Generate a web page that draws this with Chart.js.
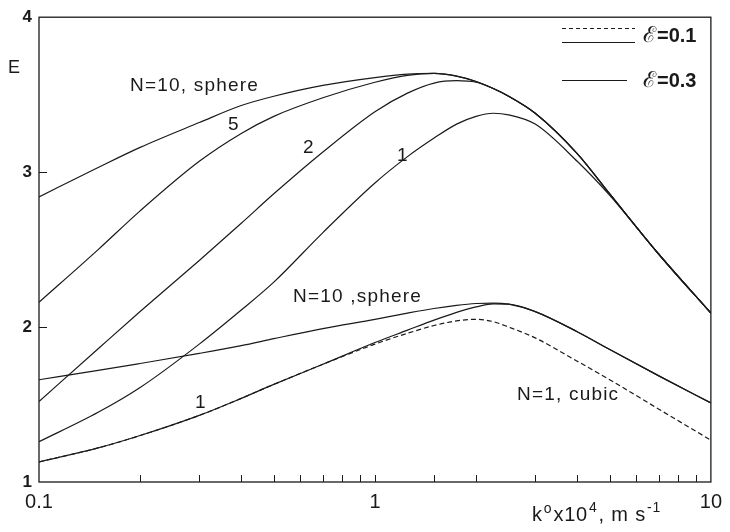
<!DOCTYPE html>
<html>
<head>
<meta charset="utf-8">
<script src="https://cdn.jsdelivr.net/npm/chart.js@4"></script>
<style>
  html, body { margin: 0; padding: 0; background: #fff; }
  #wrap { width: 730px; height: 532px; }
</style>
</head>
<body>
<div id="wrap"><canvas id="myChart"></canvas></div>
<script>
// k values (x 10^4, m/s) where the curves were read
const kValues = [0.1, 0.15, 0.2, 0.3, 0.4, 0.5, 0.7, 1, 1.25, 1.5, 1.75, 2, 2.25, 2.5, 3, 4, 5, 7, 10];

// upper family
const sphere10Upper = [2.84, 3.03, 3.16, 3.32, 3.43, 3.49, 3.56, 3.61, 3.632, 3.637, 3.62, 3.585, 3.54, 3.49, 3.38, 3.12, 2.86, 2.47, 2.09];
const n5Upper = [2.16, 2.50, 2.75, 3.07, 3.25, 3.36, 3.48, 3.58, 3.625, 3.637, 3.62, 3.585, 3.54, 3.49, 3.38, 3.12, 2.86, 2.47, 2.09];
const n2Upper = [1.52, 1.86, 2.10, 2.43, 2.67, 2.86, 3.13, 3.39, 3.51, 3.575, 3.59, 3.58, 3.54, 3.49, 3.38, 3.12, 2.86, 2.47, 2.09];
const n1Upper = [1.26, 1.45, 1.61, 1.89, 2.11, 2.29, 2.61, 2.93, 3.10, 3.22, 3.31, 3.36, 3.38, 3.37, 3.31, 3.07, 2.85, 2.47, 2.09];

// lower family
const sphere10Lower = [1.66, 1.72, 1.765, 1.83, 1.88, 1.925, 1.99, 2.05, 2.09, 2.12, 2.14, 2.152, 2.155, 2.148, 2.10, 1.97, 1.855, 1.685, 1.51];
const n1Lower = [1.13, 1.22, 1.30, 1.43, 1.54, 1.63, 1.76, 1.90, 1.98, 2.045, 2.095, 2.13, 2.15, 2.148, 2.10, 1.97, 1.855, 1.685, 1.51];
const cubic1Dashed = [1.13, 1.22, 1.30, 1.43, 1.54, 1.63, 1.76, 1.89, 1.96, 2.01, 2.04, 2.05, 2.035, 2.00, 1.93, 1.78, 1.66, 1.47, 1.27];

const xTickLabels = [0.1, 1, 10];
const yTickLabels = [1, 2, 3, 4];

const ink = '#1a1a1a';
const fontName = '"Liberation Sans", Arial, sans-serif';

function pts(arr) {
  return kValues.map((k, i) => ({ x: k, y: arr[i] }));
}

function line(label, arr, dashed) {
  return {
    label: label,
    data: pts(arr),
    borderColor: ink,
    borderWidth: 1.2,
    borderDash: dashed ? [5, 3] : [],
    pointRadius: 0,
    cubicInterpolationMode: 'monotone',
    fill: false
  };
}

// frame, inward ticks, labels and legend
const decor = {
  id: 'decor',
  afterDraw(chart) {
    const c = chart.ctx;
    const a = chart.chartArea;
    const xs = chart.scales.x;
    const ys = chart.scales.y;
    c.save();
    c.strokeStyle = ink;
    c.lineWidth = 1.3;
    c.strokeRect(a.left, a.top, a.right - a.left, a.bottom - a.top);

    c.lineWidth = 1;
    c.beginPath();
    xs.ticks.forEach(t => {
      if (t.value <= 0.1 || t.value >= 10) return;
      const px = Math.round(xs.getPixelForValue(t.value)) + 0.5;
      c.moveTo(px, a.bottom);
      c.lineTo(px, a.bottom - 7);
    });
    [2, 3].forEach(v => {
      const py = Math.round(ys.getPixelForValue(v)) + 0.5;
      c.moveTo(a.left, py);
      c.lineTo(a.left + 8, py);
    });
    c.stroke();

    c.fillStyle = ink;
    c.textBaseline = 'middle';
    c.textAlign = 'left';
    c.font = '18px ' + fontName;
    c.fillText('E', 8, 68);

    // curve labels
    c.font = '19px ' + fontName;
    c.letterSpacing = '1.2px';
    c.fillText('N=10, sphere', 130, 86);
    c.fillText('5', 228, 125);
    c.fillText('2', 303, 148);
    c.fillText('1', 397, 156);
    c.fillText('N=10 ,sphere', 293, 297);
    c.fillText('1', 195, 403);
    c.fillText('N=1, cubic', 517, 395);

    // legend
    c.letterSpacing = '0px';
    c.lineWidth = 1.1;
    c.setLineDash([4, 3]);
    c.beginPath();
    c.moveTo(562, 28.5); c.lineTo(635, 28.5);
    c.stroke();
    c.setLineDash([]);
    c.beginPath();
    c.moveTo(562, 42.5); c.lineTo(635, 42.5);
    c.moveTo(562, 80.5); c.lineTo(627, 80.5);
    c.stroke();
    [['=0.1', 36], ['=0.3', 81]].forEach(e => {
      c.font = '22px ' + fontName;
      c.fillText('\u2130', 643, e[1]);
      const w = c.measureText('\u2130').width;
      c.font = 'bold 20px ' + fontName;
      c.fillText(e[0], 643 + w + 1, e[1]);
    });

    // x title with superscripts
    const base = 521;
    let x = 532;
    const big = '20px ' + fontName;
    const small = '14px ' + fontName;
    c.textBaseline = 'alphabetic';
    c.letterSpacing = '0.8px';
    const parts = [['k', big, 0], ['o', small, -8], ['x10', big, 0], ['4', small, -9], [', m s', big, 0], ['-1', small, -9]];
    parts.forEach(p => {
      c.font = p[1];
      c.fillText(p[0], x, base + p[2]);
      x += c.measureText(p[0]).width + 1;
    });
    c.restore();
  }
};

const ctx = document.getElementById('myChart');

new Chart(ctx, {
  type: 'line',
  data: {
    datasets: [
      line('N=10, sphere', sphere10Upper),
      line('5', n5Upper),
      line('2', n2Upper),
      line('1', n1Upper),
      line('N=10, sphere (lower)', sphere10Lower),
      line('1 (lower)', n1Lower),
      line('N=1, cubic', cubic1Dashed, true)
    ]
  },
  options: {
    responsive: true,
    maintainAspectRatio: false,
    animation: false,
    layout: { padding: { left: 0, right: 12, top: 15, bottom: 0 } },
    plugins: { legend: { display: false }, tooltip: { enabled: false } },
    scales: {
      x: {
        type: 'logarithmic',
        min: 0.1,
        max: 10,
        grid: { display: false, drawTicks: false },
        border: { display: false },
        afterFit(s) { s.height = 50; },
        ticks: {
          autoSkip: false,
          maxRotation: 0,
          padding: 8,
          color: ink,
          font: { family: fontName, size: 20 },
          callback: v => xTickLabels.includes(Number(v.toPrecision(3))) ? String(Number(v.toPrecision(3))) : ''
        }
      },
      y: {
        min: 1,
        max: 4,
        grid: { display: false, drawTicks: false },
        border: { display: false },
        afterFit(s) { s.width = 39; },
        ticks: {
          stepSize: 1,
          padding: 7,
          color: ink,
          font: { family: fontName, size: 17, weight: 'bold' },
          callback: v => yTickLabels.includes(v) ? String(v) : ''
        }
      }
    }
  },
  plugins: [decor]
});
</script>
</body>
</html>
